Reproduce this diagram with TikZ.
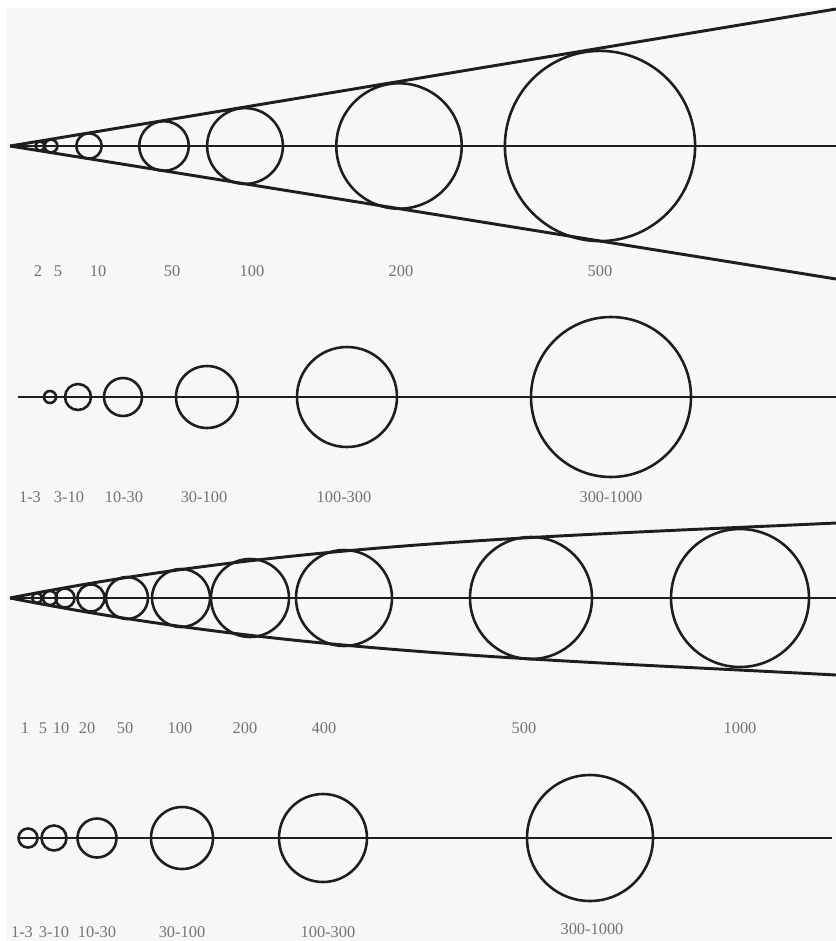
\documentclass[tikz,border=0pt]{standalone}
\usepackage{fontspec}
\setmainfont{Liberation Serif}
\usepackage{xcolor}
\definecolor{cBack}{RGB}{247,247,247}
\definecolor{cInk}{RGB}{30,30,30}
\definecolor{cLabel}{RGB}{115,115,115}
\tikzset{
  axisline/.style={draw=cInk,line width=2.5pt},
  ring/.style={draw=cInk,line width=2.2pt},
  sizelabel/.style={text=cLabel,font=\fontsize{14}{16}\selectfont,inner sep=0pt}
}

\begin{document}
\begin{tikzpicture}[x=0.03cm,y=-0.03cm]

  \useasboundingbox (0,0) rectangle (836,941);
  \fill[white] (0,0) rectangle (836,941);
  \fill[cBack] (7,8) rectangle (836,941);

  % Panel 1: straight cone
  \coordinate (aApex) at (10,146);
  \coordinate (aAxis) at (836,146);
  \coordinate (aTop) at (836,9);
  \coordinate (aBot) at (836,279);
  \draw[axisline] (aApex) -- (aAxis);
  \draw[axisline] (aApex) -- (aTop);
  \draw[axisline] (aApex) -- (aBot);

  \draw[ring] (40,146) circle[radius=4.6];
  \draw[ring] (51,146) circle[radius=6.4];
  \draw[ring] (89,146) circle[radius=12.7];
  \draw[ring] (164,146) circle[radius=24.8];
  \draw[ring] (245,146) circle[radius=37.9];
  \draw[ring] (399,146) circle[radius=62.7];
  \draw[ring] (600,146) circle[radius=95.1];

  \node[sizelabel] (aL2) at (38,271) {2};
  \node[sizelabel] (aL5) at (58,271) {5};
  \node[sizelabel] (aL10) at (98,271) {10};
  \node[sizelabel] (aL50) at (172,271) {50};
  \node[sizelabel] (aL100) at (252,271) {100};
  \node[sizelabel] (aL200) at (401,271) {200};
  \node[sizelabel] (aL500) at (600,271) {500};

  % Panel 2: size classes on a line
  \coordinate (bStart) at (18,397);
  \coordinate (bEnd) at (836,397);
  \draw[axisline] (bStart) -- (bEnd);

  \draw[ring] (50,397) circle[radius=6];
  \draw[ring] (78,397) circle[radius=13];
  \draw[ring] (123,397) circle[radius=19];
  \draw[ring] (207,397) circle[radius=31];
  \draw[ring] (347,397) circle[radius=50];
  \draw[ring] (611,397) circle[radius=80];

  \node[sizelabel] (bL1) at (30,497) {1-3};
  \node[sizelabel] (bL2) at (69,497) {3-10};
  \node[sizelabel] (bL3) at (124,497) {10-30};
  \node[sizelabel] (bL4) at (204,497) {30-100};
  \node[sizelabel] (bL5) at (344,497) {100-300};
  \node[sizelabel] (bL6) at (611,497) {300-1000};

  % Panel 3: curved cone
  \coordinate (cApex) at (10,598);
  \coordinate (cAxis) at (836,598);
  \coordinate (cTop) at (836,523);
  \coordinate (cBot) at (836,675);
  \draw[axisline] (cApex) -- (cAxis);
  \draw[axisline] (cApex) .. controls (290,543) and (536,537) .. (cTop);
  \draw[axisline] (cApex) .. controls (290,653) and (536,659) .. (cBot);

  \draw[ring] (37,598) circle[radius=5];
  \draw[ring] (50,598) circle[radius=7];
  \draw[ring] (65,598) circle[radius=9.5];
  \draw[ring] (91,598) circle[radius=13.5];
  \draw[ring] (127,598) circle[radius=21];
  \draw[ring] (181,598) circle[radius=29];
  \draw[ring] (250,598) circle[radius=39];
  \draw[ring] (344,598) circle[radius=48];
  \draw[ring] (531,598) circle[radius=61];
  \draw[ring] (740,598) circle[radius=69];

  \node[sizelabel] (cL1) at (25,728) {1};
  \node[sizelabel] (cL5) at (43,728) {5};
  \node[sizelabel] (cL10) at (61,728) {10};
  \node[sizelabel] (cL20) at (87,728) {20};
  \node[sizelabel] (cL50) at (125,728) {50};
  \node[sizelabel] (cL100) at (180,728) {100};
  \node[sizelabel] (cL200) at (245,728) {200};
  \node[sizelabel] (cL400) at (324,728) {400};
  \node[sizelabel] (cL500) at (524,728) {500};
  \node[sizelabel] (cL1000) at (740,728) {1000};

  % Panel 4: size classes, second line
  \coordinate (dStart) at (18,838);
  \coordinate (dEnd) at (832,838);
  \draw[axisline] (dStart) -- (dEnd);

  \draw[ring] (28,838) circle[radius=9.5];
  \draw[ring] (54,838) circle[radius=12.5];
  \draw[ring] (97,838) circle[radius=19.5];
  \draw[ring] (182,838) circle[radius=31];
  \draw[ring] (323,838) circle[radius=44];
  \draw[ring] (590,838) circle[radius=63];

  \node[sizelabel] (dL1) at (22,932) {1-3};
  \node[sizelabel] (dL2) at (54,932) {3-10};
  \node[sizelabel] (dL3) at (97,932) {10-30};
  \node[sizelabel] (dL4) at (182,932) {30-100};
  \node[sizelabel] (dL5) at (328,932) {100-300};
  \node[sizelabel] (dL6) at (592,929) {300-1000};

\end{tikzpicture}
\end{document}
